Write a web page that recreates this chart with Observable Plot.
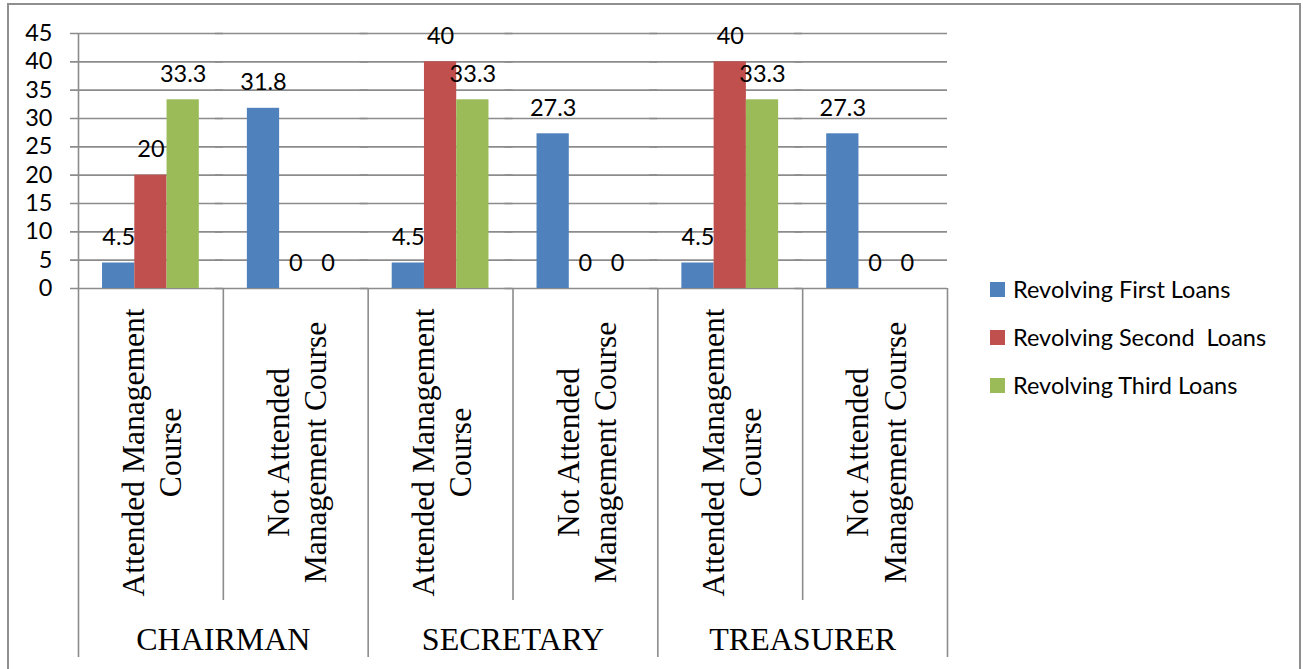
<!DOCTYPE html>
<html><head><meta charset="utf-8">
<script src="https://cdn.jsdelivr.net/npm/d3@7"></script>
<script src="https://cdn.jsdelivr.net/npm/@observablehq/plot@0.6"></script>
<style>
html,body{margin:0;padding:0;background:#fff;overflow:hidden;}
#wrap{position:relative;width:1303px;height:669px;overflow:hidden;background:#fff;}
#chart{position:absolute;left:0;top:0;}
#border{position:absolute;left:7px;top:3px;width:1294px;height:720px;border:2px solid #8f8f8f;box-sizing:border-box;}
#legend{position:absolute;left:990px;top:265px;font-family:Lato;font-size:23.5px;color:#000;}
.row{display:flex;align-items:center;height:48px;}
.sw{width:15px;height:15px;margin-right:8px;flex:none;}
.lbl{white-space:pre;}
</style></head>
<body><div id="wrap"><div id="chart"></div><div id="border"></div><div id="legend"></div></div>
<script>
// ---- data ----
const groups = ["CHAIRMAN", "SECRETARY", "TREASURER"];
const subcats = ["Attended Management\nCourse", "Not Attended\nManagement Course"];
const series = ["Revolving First Loans", "Revolving Second  Loans", "Revolving Third Loans"];
const colors = ["#4F81BD", "#C0504D", "#9BBB59"];
const firstLoans = [4.5, 31.8, 4.5, 27.3, 4.5, 27.3];
const secondLoans = [20, 0, 40, 0, 40, 0];
const thirdLoans = [33.3, 0, 33.3, 0, 33.3, 0];
const yTicks = [0, 5, 10, 15, 20, 25, 30, 35, 40, 45];

// ---- build table ----
const cats = groups.flatMap(g => subcats.map(s => g + "|" + s));
const seriesValues = [firstLoans, secondLoans, thirdLoans];
const rows = [];
cats.forEach((c, i) => series.forEach((s, j) => rows.push({cat: c, series: s, value: seriesValues[j][i]})));

// ---- layout ----
const W = 1303, H = 669, mL = 78, mR = 356, mT = 33, mB = 381;
const plotW = W - mL - mR, plotH = H - mT - mB;
const facetW = plotW / cats.length;
const pOuter = 0.745;
const step = facetW / (series.length + 2 * pOuter);
const edge = pOuter * step + step / 2;
const grid = "#8c8c8c";
const longDrop = 369, shortDrop = 312;
const sans = 23.5;

const sepRows = cats.map((c, i) => ({cat: c, i}));
const catLabels = cats.map((c, i) => ({cat: c, label: subcats[i % subcats.length]}));
const groupLabels = groups.map((g, k) => ({cat: cats[k * subcats.length], label: g}));

const chart = Plot.plot({
  width: W, height: H,
  marginLeft: mL, marginRight: mR, marginTop: mT, marginBottom: mB,
  style: {fontFamily: "Lato", fontSize: sans + "px", color: "#000", background: "transparent"},
  fx: {domain: cats, padding: 0, axis: null, round: false},
  x: {domain: series, paddingInner: 0, paddingOuter: pOuter, axis: null, round: false},
  y: {domain: [0, 45], ticks: yTicks, tickSize: 0, tickPadding: 26, label: null},
  color: {domain: series, range: colors},
  marks: [
    Plot.ruleY(yTicks, {stroke: grid, strokeWidth: 1.6, insetLeft: -8}),
    Plot.barY(rows, {fx: "cat", x: "series", y: "value", fill: "series"}),
    Plot.text(rows, {fx: "cat", x: "series", y: "value", text: d => String(d.value),
      lineAnchor: "bottom", dy: -18, fontSize: sans, fontFamily: "Lato", fill: "#000"}),
    // y axis line + left separators
    Plot.ruleX(sepRows.filter(d => d.i === 0), {fx: "cat", x: () => series[0], dx: -edge,
      stroke: grid, strokeWidth: 1.6, insetTop: 0, insetBottom: -longDrop}),
    Plot.ruleX(sepRows.filter(d => d.i > 0 && d.i % subcats.length === 0), {fx: "cat", x: () => series[0], dx: -edge,
      stroke: grid, strokeWidth: 1.6, insetTop: plotH, insetBottom: -longDrop}),
    Plot.ruleX(sepRows.filter(d => d.i % subcats.length !== 0), {fx: "cat", x: () => series[0], dx: -edge,
      stroke: grid, strokeWidth: 1.6, insetTop: plotH, insetBottom: -shortDrop}),
    Plot.ruleX(sepRows.filter(d => d.i === cats.length - 1), {fx: "cat", x: () => series[series.length - 1], dx: edge,
      stroke: grid, strokeWidth: 1.6, insetTop: plotH, insetBottom: -longDrop}),
    // category labels
    Plot.text(catLabels, {fx: "cat", text: "label", frameAnchor: "bottom", dy: 164, rotate: -90,
      textAnchor: "middle", lineAnchor: "middle", lineHeight: 1.18,
      fontFamily: "Liberation Serif", fontSize: 31.5, fill: "#000"}),
    // group labels
    Plot.text(groupLabels, {fx: "cat", text: "label", frameAnchor: "bottom-right", dy: 361,
      textAnchor: "middle", lineAnchor: "bottom", fontFamily: "Liberation Serif", fontSize: 32, fill: "#000"})
  ]
});
document.getElementById("chart").appendChild(chart);

// ---- legend ----
const leg = d3.select("#legend");
series.forEach((s, j) => {
  const r = leg.append("div").attr("class", "row");
  r.append("div").attr("class", "sw").style("background", colors[j]);
  r.append("span").attr("class", "lbl").text(s);
});
</script>
</body></html>
